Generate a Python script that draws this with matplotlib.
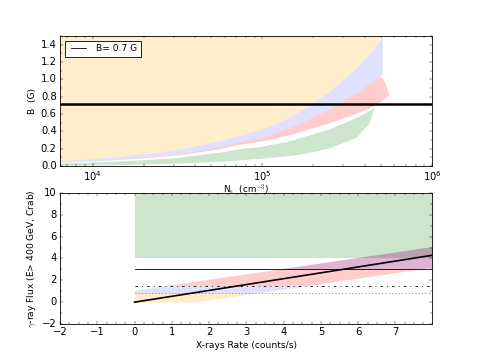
import numpy as np
import matplotlib
matplotlib.use("Agg")
import matplotlib.pyplot as plt
from matplotlib.lines import Line2D
from matplotlib.ticker import AutoMinorLocator, MultipleLocator

plt.style.use("classic")

# ---- top panel: B vs N_e bands ----
n_grid = [6.4e3, 1.0e4, 1.89e4, 3.25e4, 5.58e4, 7.32e4, 1.0e5, 1.44e5,
          1.82e5, 2.48e5, 3.57e5, 4.26e5, 4.88e5, 5.08e5]
orange_lo = [0.06, 0.083, 0.13, 0.195, 0.29, 0.35, 0.43, 0.56,
             0.68, 0.86, 1.13, 1.29, 1.44, 1.50]
blue_lo = [0.045, 0.06, 0.095, 0.14, 0.22, 0.28, 0.33, 0.44,
           0.53, 0.66, 0.84, 0.95, 1.03, 1.06]

n_red = [6.4e3, 1.0e4, 1.89e4, 3.25e4, 5.58e4, 7.32e4, 1.0e5, 1.44e5,
         1.82e5, 2.48e5, 3.57e5, 4.26e5, 4.88e5, 5.08e5, 5.3e5, 5.59e5]
red_lo = [0.043, 0.057, 0.09, 0.13, 0.20, 0.25, 0.29, 0.36,
          0.42, 0.50, 0.61, 0.67, 0.73, 0.76, 0.79, 0.82]
red_hi = [0.045, 0.06, 0.095, 0.14, 0.22, 0.28, 0.33, 0.44,
          0.53, 0.66, 0.84, 0.95, 1.03, 1.02, 0.95, 0.82]

n_green = [6.4e3, 1.0e4, 1.89e4, 3.25e4, 5.58e4, 7.32e4, 1.0e5, 1.44e5,
           1.82e5, 2.48e5, 3.57e5, 4.26e5, 4.56e5]
green_lo = [0.005, 0.01, 0.02, 0.035, 0.055, 0.07, 0.09, 0.12,
            0.15, 0.21, 0.33, 0.50, 0.68]
green_hi = [0.035, 0.045, 0.07, 0.10, 0.16, 0.20, 0.23, 0.29,
            0.35, 0.43, 0.56, 0.64, 0.68]

b_field = 0.72

# ---- bottom panel: gamma-ray flux vs X-ray rate ----
orange_x = [0, 1.6, 3.2]
orange_f_lo = [0, 0, 0.8]
orange_f_hi = [0.8, 0.8, 0.8]

blue_x = [0, 0.8, 3.2, 4.6]
blue_f_lo = [0.8, 0.8, 0.8, 1.5]
blue_f_hi = [1.1, 1.5, 1.5, 1.5]

red_x = [0.8, 4.6, 7.6, 8.0]
red_f_lo = [1.5, 1.5, 3.0, 3.2]
red_f_hi = [1.5, 3.4, 4.9, 5.1]

top_x = [3.8, 7.6, 8.0]
top_f_lo = [3.0, 3.0, 3.2]
top_f_hi = [3.0, 4.9, 5.1]

green_x = [0, 8]
green_f_lo = [4, 4]
green_f_hi = [10, 10]

fit_x = [0, 8]
fit_y = [0, 4.3]

level_x = [0, 8]
level_solid = 3.0
level_dashdot = 1.5
level_dotted = 0.8

fig = plt.figure(figsize=(8, 6), dpi=60)
fig.patch.set_facecolor("white")
ax1 = fig.add_axes([0.125, 0.539, 0.775, 0.361])
ax2 = fig.add_axes([0.125, 0.1, 0.775, 0.364])

# top
ax1.fill_between(n_green, green_lo, green_hi, color="green", alpha=0.2, lw=0)
ax1.fill_between(n_red, red_lo, red_hi, color="red", alpha=0.2, lw=0)
ax1.fill_between(n_grid, blue_lo, orange_lo, color="blue", alpha=0.12, lw=0)
ax1.fill_between(n_grid[:-1], orange_lo[:-1], 1.6, color="orange", alpha=0.2, lw=0)
ax1.axhline(b_field, color="k", lw=3)
ax1.set_xscale("log")
ax1.set_xlim(6.4e3, 1e6)
ax1.set_ylim(0, 1.5)
ax1.yaxis.set_major_locator(MultipleLocator(0.2))
ax1.yaxis.set_minor_locator(AutoMinorLocator(2))
ax1.set_xlabel(r"N$_e$  (cm$^{-3}$)", labelpad=-1, fontsize=10.5)
ax1.set_ylabel("B  (G)", fontsize=11)
ax1.legend([Line2D([], [], color="k", lw=1)], ["B= 0.7 G"], loc="upper left",
           fontsize=11, handlelength=2.2, borderpad=0.4)

# bottom
ax2.fill_between(green_x, green_f_lo, green_f_hi, color="green", alpha=0.2, lw=0)
ax2.fill_between(orange_x, orange_f_lo, orange_f_hi, color="orange", alpha=0.22, lw=0)
ax2.fill_between(blue_x, blue_f_lo, blue_f_hi, color="blue", alpha=0.12, lw=0)
ax2.fill_between(red_x, red_f_lo, red_f_hi, color="red", alpha=0.2, lw=0)
ax2.fill_between(top_x, top_f_lo, top_f_hi, color="blue", alpha=0.12, lw=0)
ax2.plot(level_x, [level_solid] * 2, "k-", lw=1)
ax2.plot(level_x, [level_dashdot] * 2, "k-.", lw=1)
ax2.plot(level_x, [level_dotted] * 2, ":", lw=1, color="0.4")
ax2.plot(fit_x, fit_y, "k-", lw=2)
ax2.set_xlim(-2, 7.98)
ax2.set_ylim(-2, 10)
ax2.xaxis.set_major_locator(MultipleLocator(1))
ax2.xaxis.set_minor_locator(AutoMinorLocator(4))
ax2.yaxis.set_major_locator(MultipleLocator(2))
ax2.yaxis.set_minor_locator(AutoMinorLocator(2))
ax2.set_xlabel("X-rays Rate (counts/s)", fontsize=11)
ax2.set_ylabel(r"$\gamma$-ray Flux (E> 400 GeV, Crab)", fontsize=11)

fig.savefig("out.png", dpi=60, facecolor="white")
